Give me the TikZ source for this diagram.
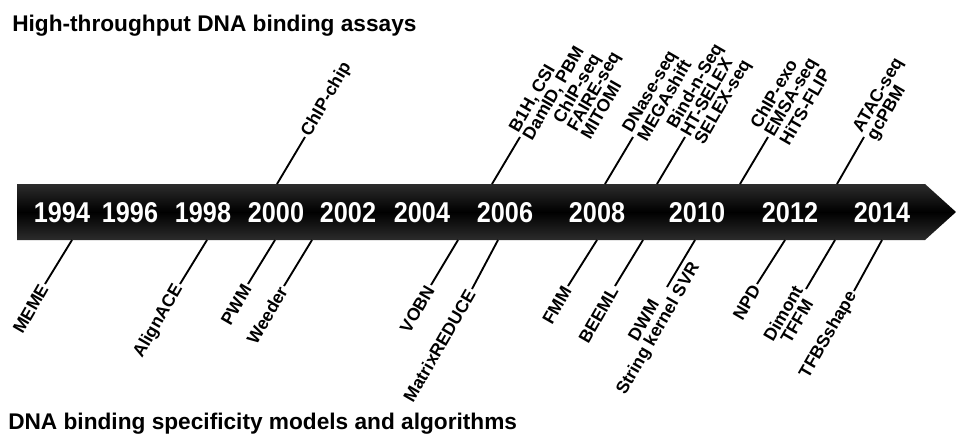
\documentclass[tikz,border=0pt]{standalone}
\usepackage{fontspec}
\setmainfont{Liberation Sans}
\definecolor{baredge}{RGB}{44,44,44}
\begin{document}
\begin{tikzpicture}[x=0.75pt,y=-0.75pt,
  lab/.style={font=\bfseries\fontsize{13.2}{12}\selectfont, rotate=60, inner sep=1.5pt},
  toplab/.style={lab, anchor=west, align=left},
  botlab/.style={lab, anchor=east, align=center},
  conn/.style={line width=1.4pt, black},
  yearlab/.style={font=\bfseries\fontsize{21.5}{21.5}\selectfont, text=white, anchor=base, inner sep=0pt},
  titlelab/.style={font=\bfseries\fontsize{17}{17}\selectfont, anchor=base west, inner sep=0pt}]
\useasboundingbox (0,0) rectangle (956,437);

% timeline bar
\shade[top color=baredge, bottom color=baredge, middle color=black]
  (17,184) -- (925,184) -- (956,212) -- (925,240) -- (17,240) -- cycle;

% years
\foreach \yr/\xx in {1994/62,1996/130,1998/203,2000/276,2002/348,2004/422,2006/505,2008/597,2010/697,2012/790,2014/882}
  \node[yearlab] (y\yr) at (\xx,222) {\scalebox{0.88}[1]{\yr}};

% titles
\node[titlelab] (httitle) at (12,31) {High-throughput DNA binding assays};
\node[titlelab] (dbtitle) at (8,429) {DNA binding specificity models and algorithms};

% top labels
\coordinate (tA) at (277,184);
\coordinate (tB) at (492,184);
\coordinate (tC) at (605,184);
\coordinate (tD) at (657,184);
\coordinate (tE) at (740,184);
\coordinate (tF) at (837,184);
\node[toplab] (chipchip) at (305,137) {ChIP-chip};
\node[toplab] (b1h) at (520,137) {B1H, CSI\\DamID, PBM};
\node[toplab] (chipseq) at (570,131) {ChIP-seq\\FAIRE-seq\\MITOMI};
\node[toplab] (dnase) at (633,137) {DNase-seq\\MEGAshift};
\node[toplab] (bindn) at (685,137) {Bind-n-Seq\\HT-SELEX\\SELEX-seq};
\node[toplab] (chipexo) at (768,137) {ChIP-exo\\EMSA-seq\\HiTS-FLIP};
\node[toplab] (atac) at (864,137) {ATAC-seq\\gcPBM};
\draw[conn] (tA) -- (chipchip.west);
\draw[conn] (tB) -- (b1h.west);
\draw[conn] (tC) -- (dnase.west);
\draw[conn] (tD) -- (bindn.west);
\draw[conn] (tE) -- (chipexo.west);
\draw[conn] (tF) -- (atac.west);

% bottom labels
\coordinate (bA) at (72,240);
\coordinate (bB) at (207,240);
\coordinate (bC) at (275,240);
\coordinate (bD) at (312,240);
\coordinate (bE) at (458,240);
\coordinate (bF) at (498,240);
\coordinate (bG) at (597,240);
\coordinate (bH) at (643,240);
\coordinate (bI) at (695,240);
\coordinate (bJ) at (785,240);
\coordinate (bK) at (835,240);
\coordinate (bL) at (882,240);
\coordinate (dwmend) at (667,287);
\node[botlab] (meme) at (45,284) {MEME};
\node[botlab] (alignace) at (180,284) {AlignACE};
\node[botlab] (pwm) at (248,284) {PWM};
\node[botlab] (weeder) at (284,286) {Weeder};
\node[botlab] (vobn) at (431,285) {VOBN};
\node[botlab] (matrixreduce) at (472,289) {MatrixREDUCE};
\node[botlab] (fmm) at (568,286) {FMM};
\node[botlab] (beeml) at (615,286) {BEEML};
\node[lab, align=center] (dwm) at (652,325) {DWM\\String kernel SVR};
\node[botlab] (npd) at (757,284) {NPD};
\node[botlab] (dimont) at (806,289) {Dimont\\TFFM};
\node[botlab] (tfbsshape) at (854,291) {TFBSshape};
\draw[conn] (bA) -- (meme.east);
\draw[conn] (bB) -- (alignace.east);
\draw[conn] (bC) -- (pwm.east);
\draw[conn] (bD) -- (weeder.east);
\draw[conn] (bE) -- (vobn.east);
\draw[conn] (bF) -- (matrixreduce.east);
\draw[conn] (bG) -- (fmm.east);
\draw[conn] (bH) -- (beeml.east);
\draw[conn] (bI) -- (dwmend);
\draw[conn] (bJ) -- (npd.east);
\draw[conn] (bK) -- (dimont.east);
\draw[conn] (bL) -- (tfbsshape.east);
\end{tikzpicture}
\end{document}
